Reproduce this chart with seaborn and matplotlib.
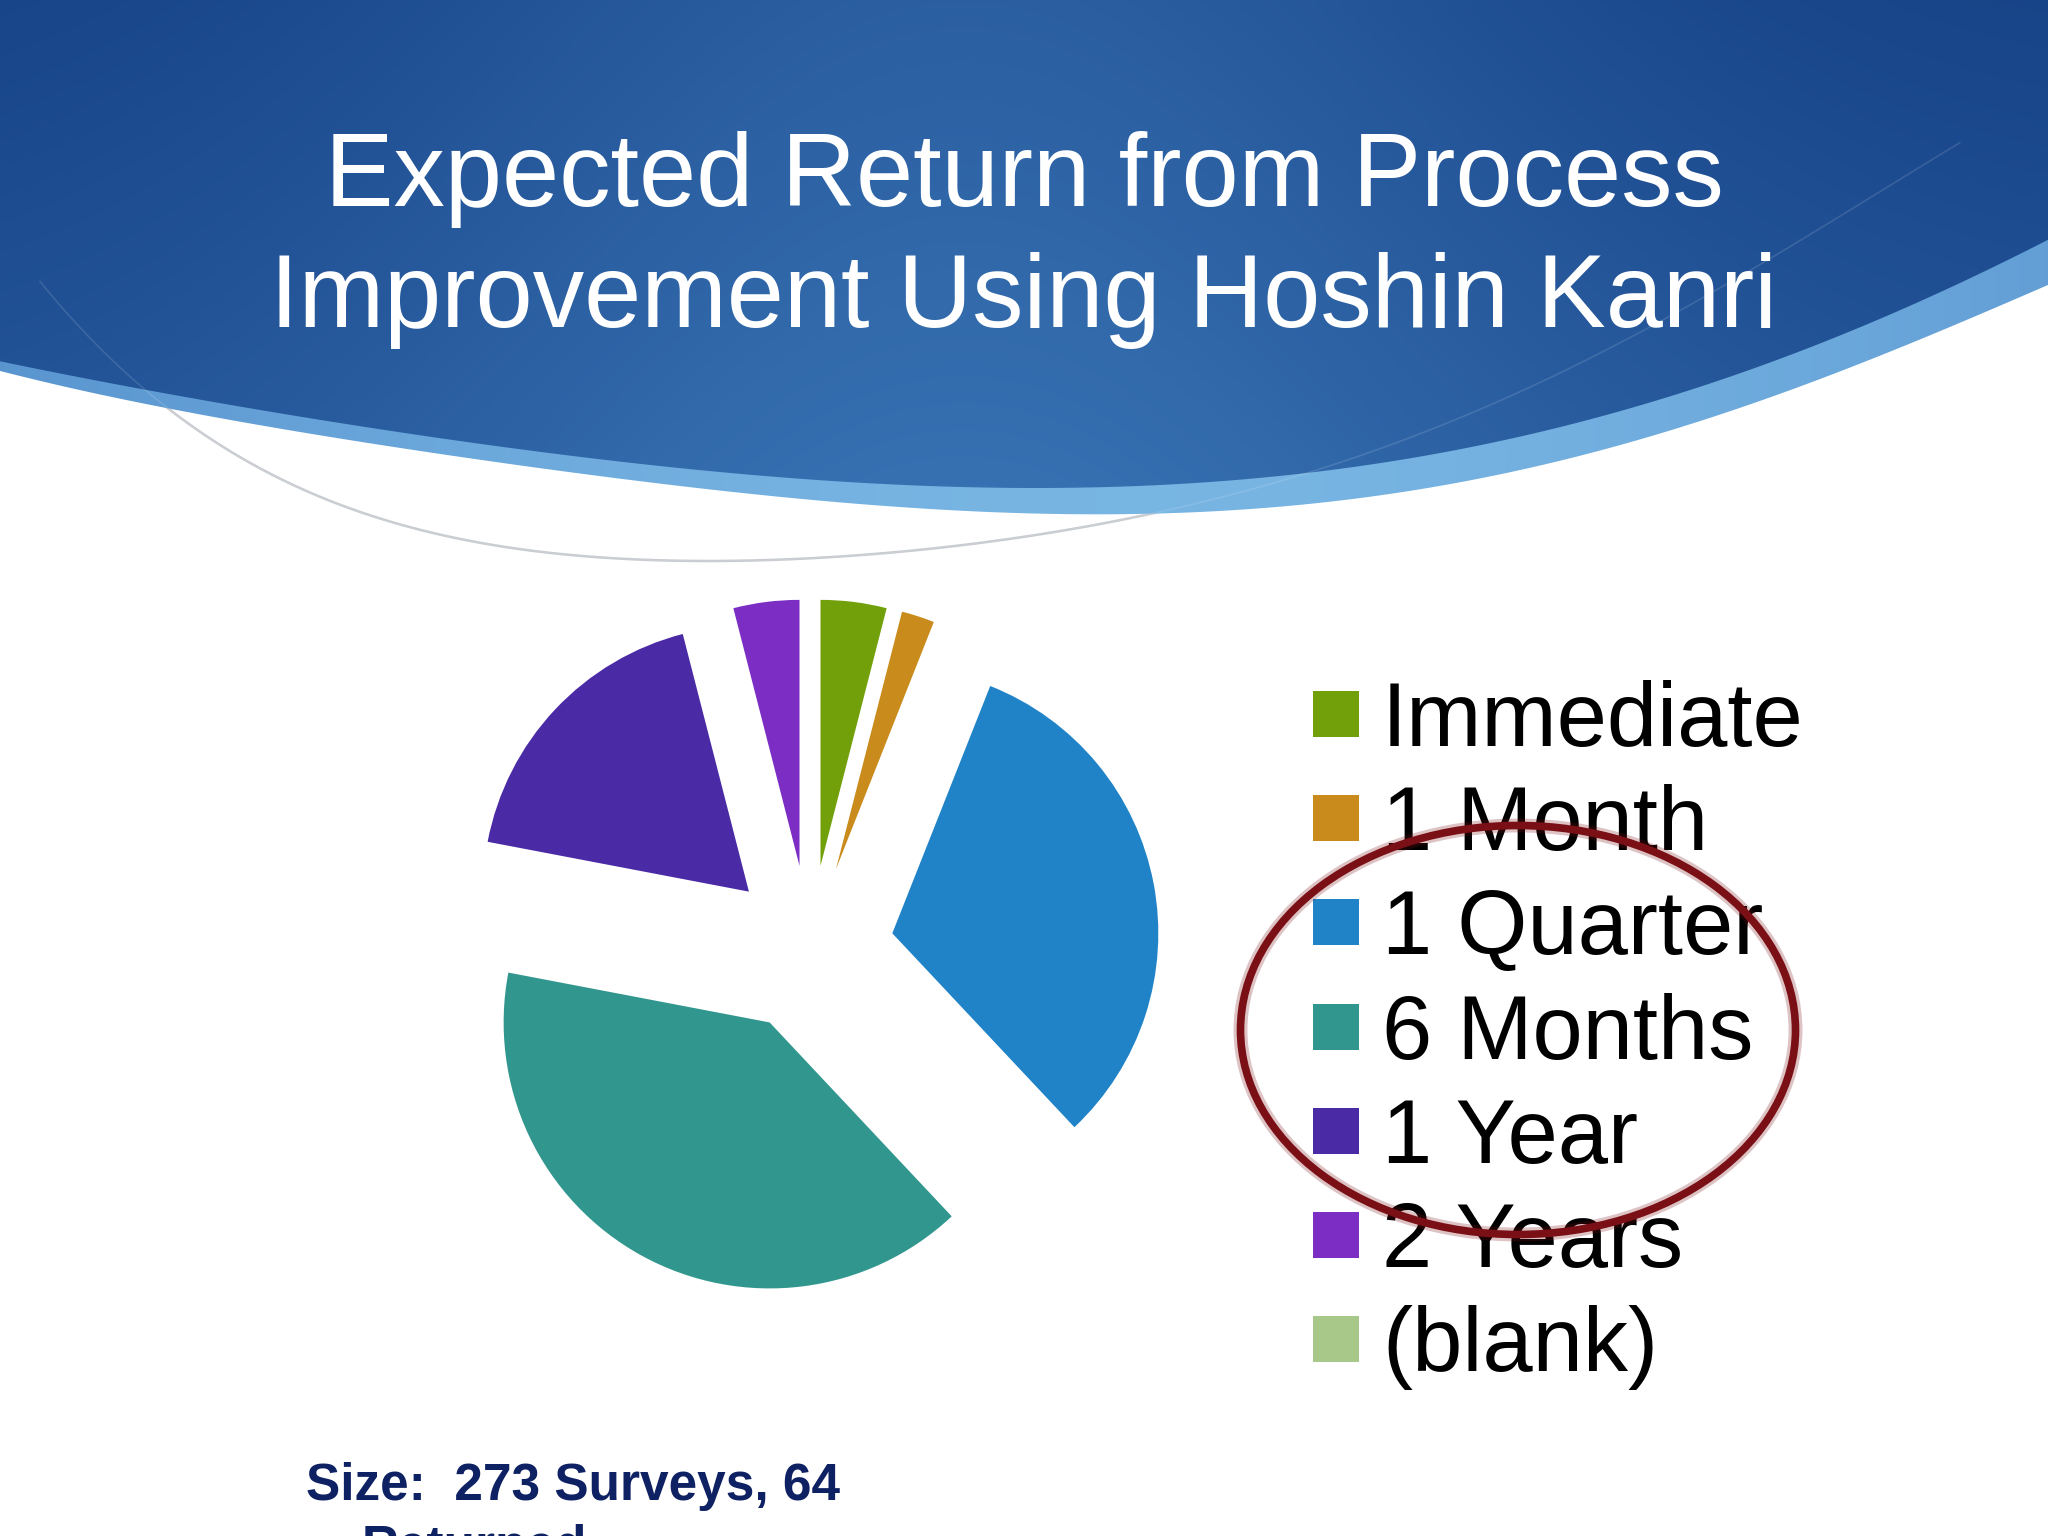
import numpy as np
import matplotlib
matplotlib.use("Agg")
import matplotlib.pyplot as plt
import seaborn as sns
from matplotlib.patches import Rectangle, Ellipse, Polygon

# --- data ---
categories = ["Immediate", "1 Month", "1 Quarter", "6 Months", "1 Year", "2 Years", "(blank)"]
responses = [2, 1, 16, 20, 9, 2, 0]
colors = ["#72a00a", "#c98c1c", "#2083c8", "#31978e", "#4a2aa5", "#7b2dc4", "#a8c88a"]

title_lines = ["Expected Return from Process", "Improvement Using Hoshin Kanri"]
footer_lines = ["Size:  273 Surveys, 64", "Returned"]

sns.set_theme(style="white")
plt.rcParams["font.family"] = ["Liberation Sans", "DejaVu Sans"]

W, H = 2048, 1536
fig = plt.figure(figsize=(20.48, 15.36), dpi=100)
fig.patch.set_facecolor("white")

# background axes in pixel coordinates (y down)
bg = fig.add_axes([0, 0, 1, 1])
bg.set_xlim(0, W)
bg.set_ylim(H, 0)
bg.axis("off")

# header swoosh outline
edge_x = [0, 261, 523, 784, 1024, 1285, 1546, 1742, 1938, 2048]
dark_y = [365, 410, 457, 480, 488, 479, 435, 377, 292, 245]
light_y = [372, 421, 471, 498, 510, 503, 469, 411, 322, 290]
xs = np.linspace(0, W, 500)
yd = np.polyval(np.polyfit(edge_x, dark_y, 5), xs)
yl = np.polyval(np.polyfit(edge_x, light_y, 5), xs)

header = Polygon(np.column_stack([np.r_[0, xs, W], np.r_[0, yd, 0]]),
                 closed=True, transform=bg.transData, facecolor="none", edgecolor="none")
band = Polygon(np.column_stack([np.r_[xs, xs[::-1]], np.r_[yd - 3, yl[::-1]]]),
               closed=True, transform=bg.transData, facecolor="none", edgecolor="none")

gx, gy = np.meshgrid(np.linspace(0, 1, 512), np.linspace(0, 1, 200))
dark = np.array([0.09, 0.26, 0.53])
light = np.array([0.26, 0.51, 0.76])
t = 0.45 * np.exp(-((gx - 0.47) / 0.30) ** 2) + 0.35 * gy
t = np.clip(t, 0, 1)[..., None]
img = dark * (1 - t) + light * t
im = bg.imshow(img, extent=(0, W, 600, 0), aspect="auto", zorder=1, interpolation="bilinear")
im.set_clip_path(header)

bx = np.linspace(0, 1, 512)[None, :]
band_lo = np.array([0.30, 0.53, 0.78])
band_hi = np.array([0.47, 0.71, 0.89])
bt = np.clip(0.3 + 0.7 * np.sin(np.pi * bx * 0.9), 0, 1)[..., None]
band_img = np.repeat(band_lo * (1 - bt) + band_hi * bt, 4, axis=0)
imb = bg.imshow(band_img, extent=(0, W, 600, 0), aspect="auto", zorder=1.5, interpolation="bilinear")
imb.set_clip_path(band)

# thin grey swoosh line (grey on white, faint inside the blue)
line_x = [40, 170, 366, 653, 800, 1024, 1155, 1416, 1677, 1873, 1960]
line_y = [280, 413, 513, 557, 560, 538, 516, 431, 312, 200, 140]
lx = np.linspace(40, 1960, 400)
ly = np.polyval(np.polyfit(line_x, line_y, 5), lx)
bg.plot(lx, ly, color="#c4c8ce", lw=1.8, zorder=0.5)
bg.plot(lx, ly, color="white", lw=1.2, alpha=0.12, zorder=2)

# title
for txt, base in zip(title_lines, [206, 327]):
    bg.text(W / 2, base, txt, color="white", fontsize=74, ha="center", va="baseline", zorder=5)

# pie
cx, cy, r = 810, 949, 266
ax = fig.add_axes([(cx - 2 * r) / W, (H - cy - 2 * r) / H, 4 * r / W, 4 * r / H])
ax.pie(responses, colors=colors, explode=[0.315] * len(responses), startangle=90,
       counterclock=False, radius=1, wedgeprops=dict(linewidth=0))
ax.set_xlim(-2, 2)
ax.set_ylim(-2, 2)
ax.set_aspect("equal")
ax.axis("off")

# legend
for i, (lab, col) in enumerate(zip(categories, colors)):
    y = 714 + 104.2 * i
    bg.add_patch(Rectangle((1313, y - 23), 46, 46, facecolor=col, edgecolor="none", zorder=5))
    bg.text(1382, y + 32, lab, fontsize=65, color="black", va="baseline", ha="left", zorder=5)

# red highlight ellipse
bg.add_patch(Ellipse((1518, 1030), 555, 409, angle=0, fill=False,
                     edgecolor="#7a1016", lw=10, alpha=0.25, zorder=6))
bg.add_patch(Ellipse((1518, 1030), 555, 409, angle=0, fill=False,
                     edgecolor="#7a1016", lw=5.5, zorder=7))

# footer (second line runs off the bottom edge, as in the slide)
bg.text(306, 1500, footer_lines[0], fontsize=37, fontweight="bold", color="#0d2163",
        va="baseline", ha="left", zorder=5)
bg.text(362, 1562, footer_lines[1], fontsize=37, fontweight="bold", color="#0d2163",
        va="baseline", ha="left", zorder=5, clip_on=False)

fig.savefig("out.png", dpi=100)
